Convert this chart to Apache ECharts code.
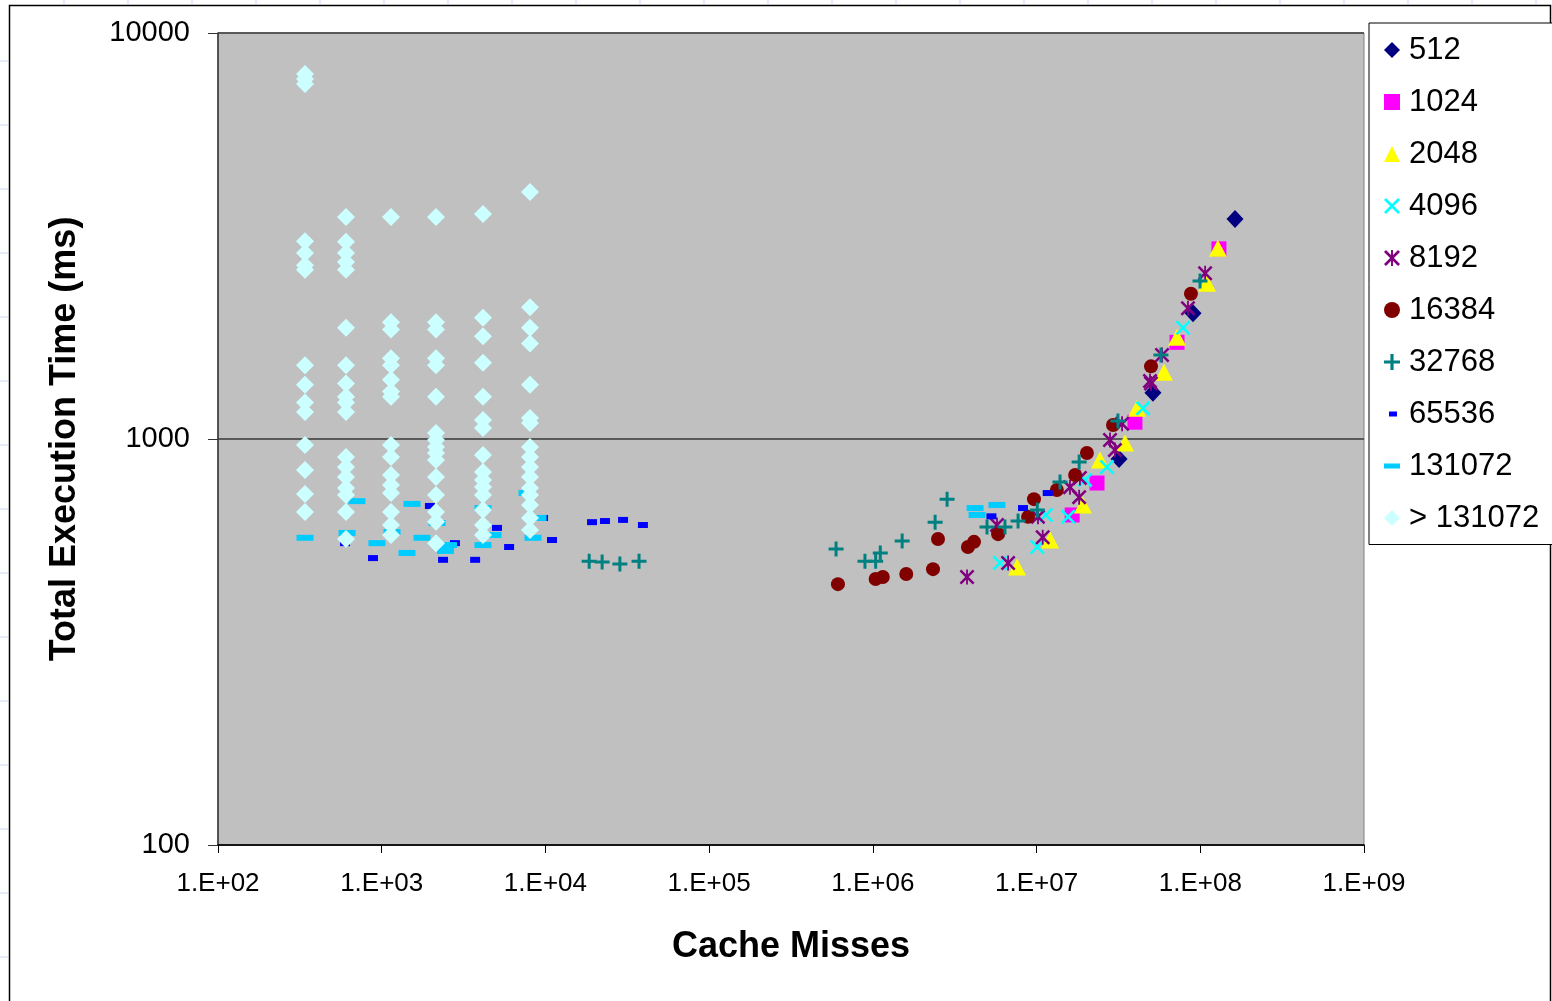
<!DOCTYPE html>
<html>
<head>
<meta charset="utf-8">
<title>Cache Misses vs Total Execution Time</title>
<script src="https://cdn.jsdelivr.net/npm/echarts/dist/echarts.min.js"></script>
<style>
  html, body { margin: 0; padding: 0; background: #fff; }
  #chart { width: 1552px; height: 1001px; }
</style>
</head>
<body>
<div id="chart"></div>
<script>
// series names (block sizes)
const seriesNames = ['512', '1024', '2048', '4096', '8192', '16384', '32768', '65536', '131072', '> 131072'];

// [cache misses, time ms]
const s512 = [[1.63e8, 3480], [9.03e7, 2040], [5.14e7, 1300], [3.19e7, 893]];
const s1024 = [[1.30e8, 2940], [7.21e7, 1730], [3.99e7, 1100], [2.34e7, 779], [1.65e7, 650]];
const s2048 = [[1.28e8, 2950], [1.10e8, 2420], [7.21e7, 1780], [6.00e7, 1460], [4.11e7, 1190],
  [3.47e7, 977], [2.44e7, 888], [1.92e7, 688], [1.21e7, 564], [7.60e6, 484]];
const s4096 = [[7.85e7, 1880], [4.47e7, 1190], [2.69e7, 853], [1.98e7, 793], [1.56e7, 643],
  [1.14e7, 650], [1.01e7, 542], [5.98e6, 495]];
const s8192 = [[1.07e8, 2560], [8.41e7, 2100], [5.84e7, 1610], [4.93e7, 1390], [5.0e7, 1370],
  [3.33e7, 1090], [2.81e7, 994], [3.01e7, 939], [1.84e7, 802], [1.60e7, 761], [1.82e7, 719],
  [1.02e7, 643], [1.09e7, 573], [6.70e6, 495], [5.73e6, 614], [3.76e6, 457]];
const s16384 = [[8.77e7, 2280], [5.00e7, 1510], [2.93e7, 1083], [2.03e7, 924], [1.72e7, 815],
  [1.33e7, 749], [9.64e6, 711], [8.87e6, 643], [5.82e6, 583], [4.15e6, 558], [3.81e6, 542],
  [2.50e6, 567], [2.33e6, 478], [1.60e6, 465], [1.15e6, 457], [1.04e6, 452], [6.12e5, 439]];
const s32768 = [[9.96e7, 2450], [5.75e7, 1610], [3.14e7, 1107], [1.82e7, 878], [1.39e7, 784],
  [1.01e7, 669], [7.71e6, 628], [6.41e6, 607], [4.98e6, 607], [2.84e6, 711], [2.40e6, 624],
  [1.51e6, 561], [1.11e6, 524], [1.04e6, 500], [8.95e5, 500], [5.96e5, 536],
  [1.85e4, 500], [2.22e4, 498], [2.85e4, 492], [3.73e4, 500]];
const s65536 = [[597, 554], [885, 509], [1970, 684], [2370, 504], [2800, 554], [3720, 504],
  [5060, 604], [6000, 542], [9670, 639], [10970, 564], [19260, 624], [23100, 628],
  [29800, 632], [39400, 614], [5.3e6, 645], [8.26e6, 676], [1.17e7, 736]];
const s131072 = [[340, 571], [614, 587], [706, 703], [935, 554], [1156, 590], [1427, 524],
  [1531, 692], [1762, 571], [2177, 621], [2450, 530], [2560, 548], [4155, 676], [4155, 548],
  [4786, 580], [8395, 571], [9015, 639], [7720, 736], [4.21e6, 676], [4.33e6, 650], [5.73e6, 688]];

// > 131072: six miss counts, each with a column of times
const bigX = [340, 605, 1140, 2146, 4155, 8050];
const bigY = [
  [7925, 7700, 7490, 3070, 2870, 2680, 2610, 1520, 1360, 1230, 1165, 966, 839, 732, 661],
  [3520, 3060, 2870, 2730, 2610, 1880, 1520, 1370, 1270, 1230, 1165, 903, 853, 806, 757, 728, 661, 567],
  [3520, 1940, 1860, 1580, 1520, 1400, 1310, 1270, 966, 903, 815, 770, 736, 661, 614, 580],
  [3520, 1940, 1860, 1580, 1520, 1270, 1035, 994, 956, 924, 888, 806, 728, 661, 625, 554],
  [3580, 1990, 1790, 1540, 1270, 1114, 1064, 913, 829, 793, 762, 728, 669, 614, 580],
  [4060, 2110, 1880, 1720, 1360, 1127, 1095, 956, 903, 853, 806, 757, 728, 688, 639, 597]
];
const sBig = [];
bigY.forEach((col, i) => col.forEach(y => sBig.push([bigX[i], y])));

const allData = [s512, s1024, s2048, s4096, s8192, s16384, s32768, s65536, s131072, sBig];

// marker shapes
const X_SHAPE = 'M0 1.2L1.2 0L5 3.8L8.8 0L10 1.2L6.2 5L10 8.8L8.8 10L5 6.2L1.2 10L0 8.8L3.8 5Z';
const STAR_SHAPE = X_SHAPE + 'M4.4 0H5.6V10H4.4Z';
const PLUS_SHAPE = 'M4 0H6V4H10V6H6V10H4V6H0V4H4Z';

const styles = [
  { symbol: 'diamond', size: [17, 18], color: '#000080' },
  { symbol: 'rect', size: 15, color: '#FF00FF' },
  { symbol: 'triangle', size: [18, 17], color: '#FFFF00' },
  { symbol: 'path://' + X_SHAPE, size: 15, color: '#00FFFF' },
  { symbol: 'path://' + STAR_SHAPE, size: 15, color: '#800080' },
  { symbol: 'circle', size: 14, color: '#800000' },
  { symbol: 'path://' + PLUS_SHAPE, size: 15, color: '#008080' },
  { symbol: 'rect', size: [10, 6], color: '#0000FF',
    icon: 'path://M0 0L0.01 0ZM5 5.5H13V10.5H5ZM16 16L15.99 16Z' },
  { symbol: 'rect', size: [17, 6], color: '#00CCFF',
    icon: 'path://M0 0L0.01 0ZM0 5.5H16V10.5H0ZM16 16L15.99 16Z' },
  { symbol: 'diamond', size: 18, color: '#CCFFFF' }
];

const FONT = 'Liberation Sans, Arial, sans-serif';

const series = seriesNames.map((name, i) => ({
  name: name,
  type: 'scatter',
  data: allData[i],
  symbol: styles[i].symbol,
  symbolSize: styles[i].size,
  itemStyle: { color: styles[i].color, opacity: 1 },
  emphasis: { disabled: true }
}));

// frame round the chart + faint sheet gridlines in the margin
const graphics = [{
  type: 'rect', silent: true, z: -1,
  shape: { x: 9.5, y: 5.5, width: 1541, height: 1100 },
  style: { fill: null, stroke: '#000', lineWidth: 1.5 }
}];
for (let y = 61; y < 1001; y += 64) {
  graphics.push({ type: 'line', silent: true, shape: { x1: 0, y1: y, x2: 8, y2: y },
    style: { stroke: '#C8D6F4', lineWidth: 1 } });
}
for (let x = 64; x < 1552; x += 64) {
  graphics.push({ type: 'line', silent: true, shape: { x1: x, y1: 0, x2: x, y2: 4 },
    style: { stroke: '#C8D6F4', lineWidth: 1 } });
}

const chart = echarts.init(document.getElementById('chart'), null, { renderer: 'canvas' });
chart.setOption({
  animation: false,
  backgroundColor: '#fff',
  textStyle: { fontFamily: FONT },
  grid: {
    left: 218, right: 188, top: 33, bottom: 156,
    show: true, backgroundColor: '#C0C0C0', borderColor: '#808080', borderWidth: 1
  },
  legend: {
    orient: 'vertical',
    left: 1369, top: 23,
    padding: [11.5, 14, 11, 15],
    itemWidth: 16, itemHeight: 16, itemGap: 21,
    backgroundColor: '#fff', borderColor: '#000', borderWidth: 1,
    textStyle: { fontSize: 31, lineHeight: 30, color: '#000', fontFamily: FONT, padding: [0, 0, 0, 4] },
    data: seriesNames.map((n, i) => styles[i].icon ? { name: n, icon: styles[i].icon } : n),
    selectedMode: false
  },
  xAxis: {
    type: 'log', logBase: 10, min: 100, max: 1e9,
    axisLine: { show: true, onZero: false, lineStyle: { color: '#000', width: 1.5 } },
    axisTick: { show: true, length: 8, lineStyle: { color: '#000' } },
    splitLine: { show: false },
    axisLabel: {
      fontSize: 26, color: '#000', fontFamily: FONT, margin: 26,
      formatter: v => {
        const e = Math.round(Math.log10(v));
        return '1.E+' + (e < 10 ? '0' : '') + e;
      }
    },
    name: 'Cache Misses', nameLocation: 'middle', nameGap: 84,
    nameTextStyle: { fontSize: 36, fontWeight: 'bold', color: '#000', fontFamily: FONT }
  },
  yAxis: {
    type: 'log', logBase: 10, min: 100, max: 10000,
    axisLine: { show: true, lineStyle: { color: '#333', width: 1.5 } },
    axisTick: { show: true, length: 10, lineStyle: { color: '#333' } },
    splitLine: { show: true, lineStyle: { color: '#595959', width: 2 } },
    axisLabel: {
      fontSize: 29, color: '#000', fontFamily: FONT, margin: 28,
      formatter: v => String(Math.round(v))
    },
    name: 'Total Execution Time (ms)', nameLocation: 'middle', nameGap: 135,
    nameTextStyle: { fontSize: 36, fontWeight: 'bold', color: '#000', fontFamily: FONT }
  },
  graphic: graphics,
  series: series
});
</script>
</body>
</html>
